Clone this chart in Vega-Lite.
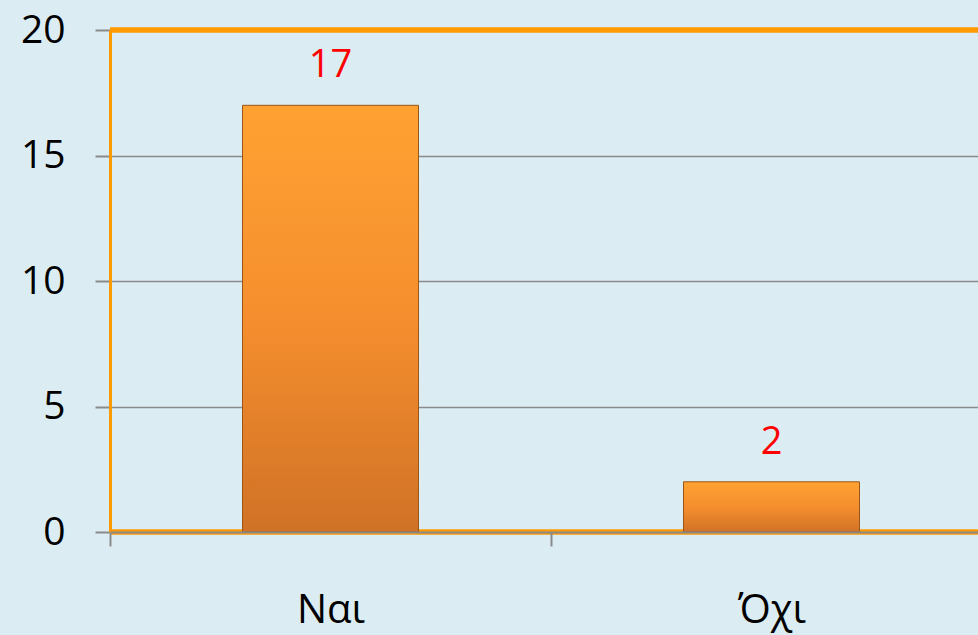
{
  "$schema": "https://vega.github.io/schema/vega-lite/v6.json",
  "autosize": {"type": "none"},
  "width": 868,
  "height": 502,
  "padding": {"left": 110, "top": 30, "right": 0, "bottom": 103},
  "background": "#dbedf3",
  "config": {
    "view": {"stroke": null},
    "font": "Open Sans"
  },
  "data": {
    "values": [
      {"answer": "Ναι", "count": 17},
      {"answer": "Όχι", "count": 2}
    ]
  },
  "layer": [
    {
      "mark": {"type": "rule", "color": "#ff9a00", "strokeWidth": 5},
      "encoding": {"y": {"datum": 0, "type": "quantitative"}}
    },
    {
      "mark": {
        "type": "bar",
        "size": 176,
        "color": {
          "gradient": "linear",
          "x1": 0, "y1": 0, "x2": 0, "y2": 1,
          "stops": [
            {"offset": 0, "color": "#ffa232"},
            {"offset": 0.5, "color": "#f58e2e"},
            {"offset": 1, "color": "#d07226"}
          ]
        },
        "stroke": "#9a5518",
        "strokeWidth": 1
      },
      "encoding": {
        "x": {
          "field": "answer",
          "type": "nominal",
          "sort": null,
          "scale": {"range": [0, 882], "paddingInner": 0, "paddingOuter": 0},
          "axis": {
            "title": null,
            "labelAngle": 0,
            "labelFontSize": 40,
            "labelColor": "#000000",
            "labelPadding": 44,
            "labelFont": "Open Sans",
            "domainColor": "#8a8a8a",
            "domainWidth": 2,
            "tickColor": "#8a8a8a",
            "tickWidth": 2,
            "tickSize": 14,
            "tickBand": "extent",
            "grid": false,
            "zindex": 1
          }
        },
        "y": {
          "field": "count",
          "type": "quantitative",
          "scale": {"domain": [0, 20], "nice": false},
          "axis": {
            "title": null,
            "values": [0, 5, 10, 15, 20],
            "labelFontSize": 39,
            "labelColor": "#000000",
            "labelPadding": 30,
            "labelFont": "Open Sans",
            "tickColor": "#8a8a8a",
            "tickWidth": 2,
            "tickSize": 15,
            "domainColor": "#ff9a00",
            "domainWidth": 3,
            "grid": true,
            "gridColor": "#8a8a8a",
            "gridWidth": 1.5
          }
        }
      }
    },
    {
      "mark": {"type": "rule", "color": "#ff9a00", "strokeWidth": 5},
      "encoding": {"y": {"datum": 20, "type": "quantitative"}}
    },
    {
      "mark": {"type": "text",
        "color": "#ff0000",
        "fontSize": 38,
        "font": "Open Sans",
        "baseline": "bottom",
        "dy": -20
      },
      "encoding": {
        "x": {"field": "answer", "type": "nominal", "sort": null},
        "y": {"field": "count", "type": "quantitative"},
        "text": {"field": "count", "type": "quantitative"}
      }
    }
  ]
}
